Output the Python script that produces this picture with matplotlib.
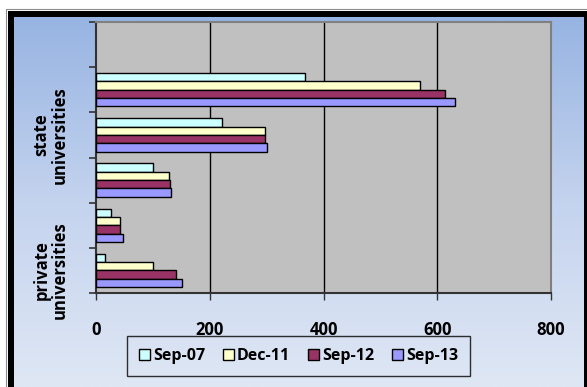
import numpy as np
import matplotlib.pyplot as plt
from matplotlib.patches import Rectangle
from matplotlib.colors import LinearSegmentedColormap

# counts per category row, bottom row first; the top row is empty
series = ["Sep-07", "Dec-11", "Sep-12", "Sep-13"]
sep07 = [16, 27, 101, 222, 368]
dec11 = [100, 43, 129, 297, 569]
sep12 = [140, 43, 130, 298, 613]
sep13 = [151, 48, 131, 301, 632]
n_rows = 6
groups = ["private\nuniversities", "state\nuniversities"]
group_pos = [0.5, 3.5]
xticks = [0, 200, 400, 600, 800]

colors = ["#CCFFFF", "#FFFFCC", "#993366", "#9999FF"]
FONT = "Open Sans"

W, H = 587, 387
fig = plt.figure(figsize=(W / 100, H / 100), dpi=100)

# frame and gradient background in pixel coordinates
bg = fig.add_axes([0, 0, 1, 1])
bg.set_xlim(0, W)
bg.set_ylim(H, 0)
bg.axis("off")
bg.add_patch(Rectangle((6, 9), W, H, fill=False, edgecolor="#8c8c8c", lw=0.8))
bg.add_patch(Rectangle((8, 11), W, H, facecolor="black", edgecolor="none"))
cmap = LinearSegmentedColormap.from_list("bg", ["#97B4E2", "#C4D3EE", "#DFE7F4"])
grad = np.linspace(0, 1, 256).reshape(-1, 1)
bg.imshow(grad, cmap=cmap, extent=(14, 584, H, 17), aspect="auto", zorder=2)

ax = fig.add_axes([96 / W, 1 - 293 / H, 455 / W, 271 / H])
ax.set_facecolor("#C0C0C0")

h = 0.185
y = np.arange(len(sep07)) + 0.5
for i, (vals, col, name) in enumerate(zip([sep07, dec11, sep12, sep13], colors, series)):
    ax.barh(y + (1.5 - i) * h, vals, height=h, color=col, edgecolor="black",
            linewidth=1.0, label=name, zorder=3)

ax.set_xlim(0, 800)
ax.set_ylim(0, n_rows)
ax.set_xticks(xticks)
ax.set_xticklabels([str(t) for t in xticks], fontfamily=FONT,
                   fontweight="bold", fontsize=12)
ax.set_yticks(range(n_rows + 1))
ax.set_yticklabels([])
ax.tick_params(axis="x", direction="out", length=5, width=1, pad=15, color="#333333")
ax.tick_params(axis="y", direction="out", length=5, width=1.2, color="#333333")
for t in xticks[1:-1]:
    ax.axvline(t, color="black", lw=1, zorder=1)
for side in ["top", "right"]:
    ax.spines[side].set_color("#808080")
    ax.spines[side].set_linewidth(1.5)
for side in ["left", "bottom"]:
    ax.spines[side].set_color("#333333")
    ax.spines[side].set_linewidth(1.5)

for label, pos in zip(groups, group_pos):
    ax.text(-80, pos, label, rotation=90, ha="center", va="center",
            fontfamily=FONT, fontweight="bold", fontsize=12,
            linespacing=1.0, transform=ax.transData, clip_on=False)

leg = fig.legend(loc="center", bbox_to_anchor=(298.5 / W, 1 - 356 / H), ncol=4,
                 frameon=True, fancybox=False, edgecolor="black",
                 prop={"family": FONT, "weight": "bold", "size": 11.5},
                 handlelength=0.7, handleheight=0.7, handletextpad=0.2,
                 columnspacing=1.1, borderpad=0.75)
leg.get_frame().set_facecolor("none")
leg.get_frame().set_linewidth(1.0)

fig.savefig("out.png", dpi=100)
